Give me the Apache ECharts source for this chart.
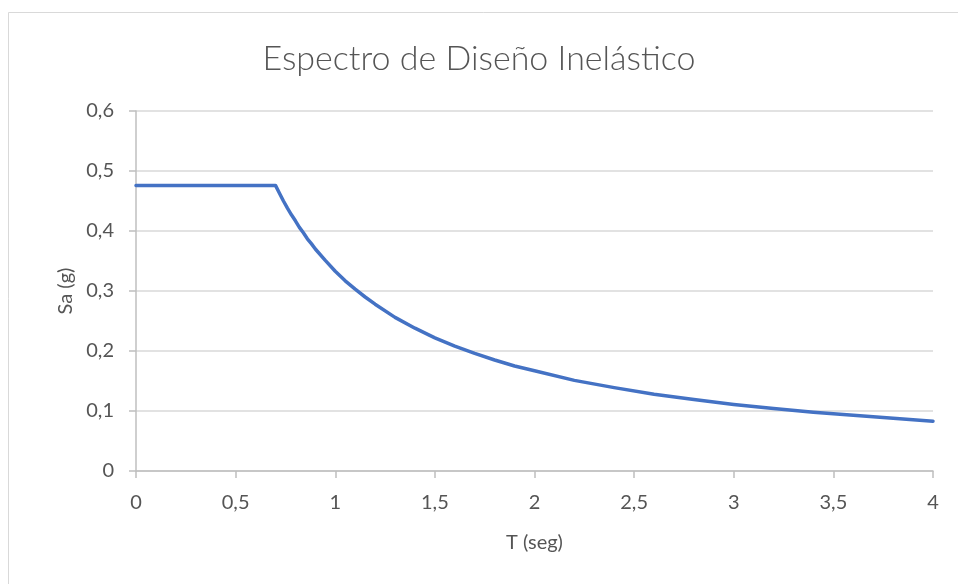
<!DOCTYPE html>
<html>
<head>
<meta charset="utf-8">
<style>
  html, body { margin: 0; padding: 0; background: #ffffff; }
  #chart { width: 958px; height: 584px; }
</style>
<script src="https://cdn.jsdelivr.net/npm/echarts@6/dist/echarts.min.js"></script>
</head>
<body>
<div id="chart"></div>
<script>
// Periodo T (s) y aceleración espectral Sa (g)
const periods = [0, 0.7, 0.72, 0.74, 0.76, 0.78, 0.8, 0.82, 0.84, 0.86, 0.88, 0.9, 0.95, 1.0, 1.05, 1.1, 1.15, 1.2, 1.3, 1.4, 1.5, 1.6, 1.7, 1.8, 1.9, 2.0, 2.2, 2.4, 2.6, 2.8, 3.0, 3.2, 3.4, 3.6, 3.8, 4.0];
const saValues = [0.476, 0.476, 0.463, 0.450, 0.438, 0.427, 0.417, 0.406, 0.397, 0.387, 0.379, 0.370, 0.351, 0.333, 0.317, 0.303, 0.290, 0.278, 0.256, 0.238, 0.222, 0.208, 0.196, 0.185, 0.175, 0.167, 0.151, 0.139, 0.128, 0.119, 0.111, 0.104, 0.098, 0.093, 0.088, 0.083];
const xTicks = [0, 0.5, 1, 1.5, 2, 2.5, 3, 3.5, 4];
const yTicks = [0, 0.1, 0.2, 0.3, 0.4, 0.5, 0.6];

const fmt = v => String(+v.toFixed(2)).replace('.', ',');
const FONT = 'Lato, "Open Sans", sans-serif';
const TXT = '#555555';

const chart = echarts.init(document.getElementById('chart'), null, { renderer: 'canvas' });
chart.setOption({
  animation: false,
  backgroundColor: '#ffffff',
  graphic: [{
    type: 'rect',
    shape: { x: 8.5, y: 12.5, width: 1000, height: 1000 },
    style: { fill: 'none', stroke: '#d9d9d9', lineWidth: 1 },
    silent: true
  }],
  title: {
    text: 'Espectro de Diseño Inelástico',
    left: 'center',
    top: 37,
    textStyle: { fontFamily: FONT, fontSize: 34, fontWeight: 300, color: TXT }
  },
  grid: { left: 136, right: 25, top: 111, bottom: 113, containLabel: false },
  xAxis: {
    type: 'value',
    min: xTicks[0],
    max: xTicks[xTicks.length - 1],
    interval: 0.5,
    name: 'T (seg)',
    nameLocation: 'middle',
    nameGap: 62,
    nameTextStyle: { fontFamily: FONT, fontSize: 20, color: TXT },
    axisLine: { show: true, lineStyle: { color: '#bfbfbf', width: 1.5 } },
    axisTick: { show: true, length: 7, lineStyle: { color: '#bfbfbf', width: 1.5 } },
    axisLabel: { fontFamily: FONT, fontSize: 20, color: TXT, margin: 22, formatter: fmt },
    splitLine: { show: false }
  },
  yAxis: {
    type: 'value',
    min: yTicks[0],
    max: yTicks[yTicks.length - 1],
    interval: 0.1,
    name: 'Sa (g)',
    nameLocation: 'middle',
    nameGap: 48,
    nameTextStyle: { fontFamily: FONT, fontSize: 20, color: TXT },
    axisLine: { show: true, lineStyle: { color: '#bfbfbf', width: 1.5 } },
    axisTick: { show: true, length: 7, lineStyle: { color: '#bfbfbf', width: 1.5 } },
    axisLabel: { fontFamily: FONT, fontSize: 20, color: TXT, margin: 22, formatter: fmt },
    splitLine: { show: true, lineStyle: { color: '#d9d9d9', width: 1.5 } }
  },
  series: [{
    type: 'line',
    data: periods.map((t, i) => [t, saValues[i]]),
    smooth: false,
    showSymbol: false,
    lineStyle: { color: '#4472c4', width: 3.5, cap: 'round', join: 'round' },
    itemStyle: { color: '#4472c4' }
  }]
});
</script>
</body>
</html>
